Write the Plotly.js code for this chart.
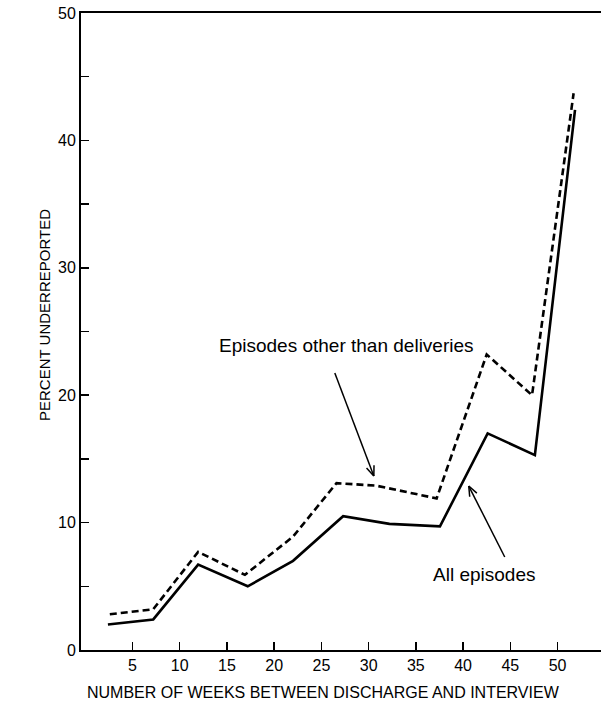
<!DOCTYPE html>
<html>
<head>
<meta charset="utf-8">
<script src="https://cdn.plot.ly/plotly-3.0.1.min.js"></script>
<style>html,body{margin:0;padding:0;background:#fff;}#chart{width:601px;height:721px;}</style>
</head>
<body>
<div id="chart"></div>
<script>
// Data
const allWeeks = [2.4, 7.2, 11.95, 17.2, 22.0, 27.3, 32.2, 37.55, 42.6, 47.6, 51.85];
const allPct   = [2.0, 2.4, 6.7, 5.0, 7.0, 10.5, 9.9, 9.7, 17.0, 15.3, 42.4];
const otherWeeks = [2.6, 7.2, 11.95, 16.9, 22.0, 26.6, 30.8, 37.2, 42.5, 47.3, 51.7];
const otherPct   = [2.8, 3.2, 7.7, 5.9, 8.9, 13.1, 12.9, 11.9, 23.2, 20.0, 43.7];
const xTickVals = [5, 10, 15, 20, 25, 30, 35, 40, 45, 50];
const xTickText = ["5", "10", "15", "20", "25", "30", "35", "40", "45", "50"];
const yTickVals = [0, 5, 10, 15, 20, 25, 30, 35, 40, 45, 50];
const yTickText = ["0", "", "10", "", "20", "", "30", "", "40", "", "50"];

const W = 601, H = 721;
const M = {l: 81, r: 0, t: 13, b: 71};
const xRange = [-0.45, 54.6], yRange = [0, 50];
const pw = W - M.l - M.r, ph = H - M.t - M.b;
const sx = pw / (xRange[1] - xRange[0]), sy = ph / (yRange[1] - yRange[0]);

const FONT = '"Liberation Sans", Arial, sans-serif';

// arrows: tail -> head in data coords, V-shaped open head
const arrows = [
  {tail: [26.42, 21.74], head: [30.55, 13.66]},
  {tail: [44.41, 7.30], head: [40.6, 12.87]}
];
const shapes = [];
arrows.forEach(a => {
  const dxp = (a.head[0] - a.tail[0]) * sx;
  const dyp = -(a.head[1] - a.tail[1]) * sy;
  const len = Math.hypot(dxp, dyp);
  const ux = dxp / len, uy = dyp / len;
  const hl = 10, hw = 4;
  const wings = [1, -1].map(s => {
    const px = -ux * hl + s * (-uy) * hw;
    const py = -uy * hl + s * (ux) * hw;
    return [a.head[0] + px / sx, a.head[1] - py / sy];
  });
  shapes.push({type: 'line', xref: 'x', yref: 'y', x0: a.tail[0], y0: a.tail[1], x1: a.head[0], y1: a.head[1], line: {color: '#000', width: 1.5}});
  wings.forEach(w => shapes.push({type: 'line', xref: 'x', yref: 'y', x0: w[0], y0: w[1], x1: a.head[0], y1: a.head[1], line: {color: '#000', width: 1.5}}));
});

const traces = [
  {x: otherWeeks, y: otherPct, mode: 'lines', line: {color: '#000', width: 2.6, dash: '7px,4px'}, name: 'Episodes other than deliveries', hoverinfo: 'skip'},
  {x: allWeeks, y: allPct, mode: 'lines', line: {color: '#000', width: 2.6}, name: 'All episodes', hoverinfo: 'skip'}
];

const layout = {
  width: W, height: H,
  margin: M,
  paper_bgcolor: '#fff', plot_bgcolor: '#fff',
  showlegend: false,
  font: {family: FONT, color: '#000', size: 14},
  xaxis: {
    range: xRange, showgrid: false, zeroline: false,
    showline: true, linecolor: '#000', linewidth: 2, mirror: true,
    ticks: 'inside', ticklen: 8, tickwidth: 1.5, tickcolor: '#000',
    tickmode: 'array', tickvals: xTickVals, ticktext: xTickText,
    tickfont: {family: FONT, size: 16, color: '#000'}
  },
  yaxis: {
    range: yRange, showgrid: false, zeroline: false,
    showline: true, linecolor: '#000', linewidth: 2,
    ticks: 'inside', ticklen: 8, tickwidth: 1.5, tickcolor: '#000',
    tickmode: 'array', tickvals: yTickVals, ticktext: yTickText,
    tickfont: {family: FONT, size: 16, color: '#000'}, ticklabelstandoff: 0
  },
  shapes: shapes,
  annotations: [
    {text: 'Episodes other than deliveries', x: 27.68, y: 23.94, xref: 'x', yref: 'y', showarrow: false, xanchor: 'center', yanchor: 'middle', font: {family: FONT, size: 19, color: '#000'}},
    {text: 'All episodes', x: 42.19, y: 5.89, xref: 'x', yref: 'y', showarrow: false, xanchor: 'center', yanchor: 'middle', font: {family: FONT, size: 19, color: '#000'}},
    {text: 'PERCENT UNDERREPORTED', x: (44 - M.l) / pw, y: (650 - 315) / ph, xref: 'paper', yref: 'paper', showarrow: false, textangle: -90, xanchor: 'center', yanchor: 'middle', font: {family: FONT, size: 15, color: '#000'}},
    {text: 'NUMBER OF WEEKS BETWEEN DISCHARGE AND INTERVIEW', x: (323.5 - M.l) / pw, y: (650 - 692) / ph, xref: 'paper', yref: 'paper', showarrow: false, xanchor: 'center', yanchor: 'middle', font: {family: FONT, size: 16, color: '#000'}}
  ]
};

Plotly.newPlot('chart', traces, layout, {displayModeBar: false, staticPlot: true});
</script>
</body>
</html>
